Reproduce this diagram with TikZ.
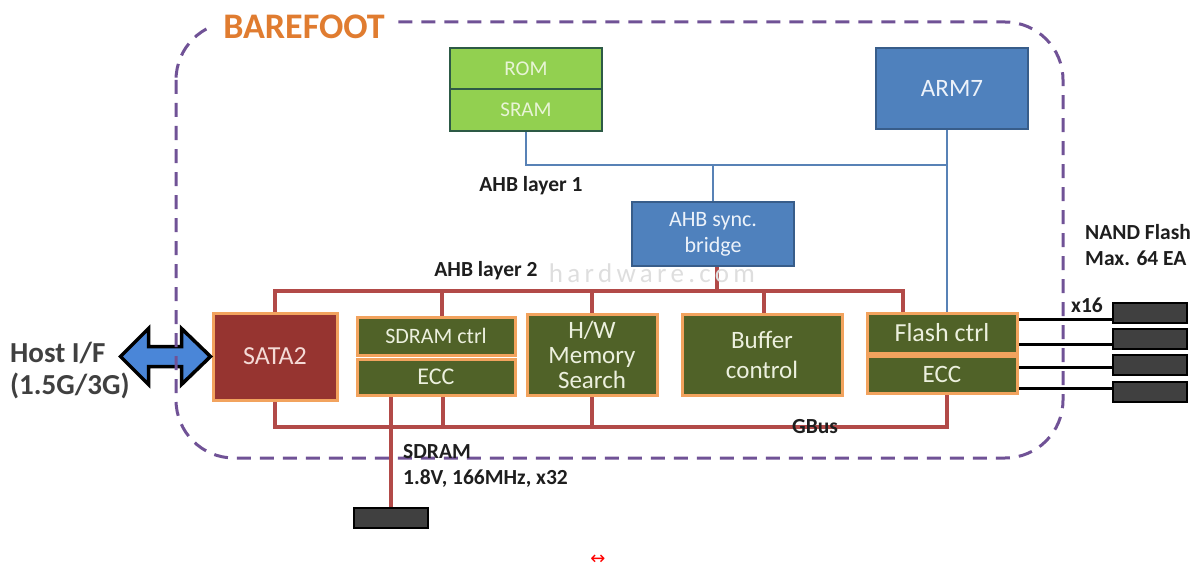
\documentclass[tikz,border=0pt]{standalone}
\usepackage{fontspec}
\setmainfont{Carlito}
\newfontfamily\djv{DejaVu Sans}
\newfontfamily\wmfont[LetterSpace=16]{Carlito}
\usetikzlibrary{calc,backgrounds}
\definecolor{purp}{RGB}{112,82,150}
\definecolor{orangetxt}{RGB}{224,124,48}
\definecolor{lgreen}{RGB}{146,208,80}
\definecolor{gborder}{RGB}{45,90,70}
\definecolor{lgtext}{RGB}{232,244,214}
\definecolor{bfill}{RGB}{79,129,189}
\definecolor{bborder}{RGB}{56,93,138}
\definecolor{btext}{RGB}{236,242,250}
\definecolor{bline}{RGB}{88,130,182}
\definecolor{rline}{RGB}{178,74,72}
\definecolor{oborder}{RGB}{242,163,94}
\definecolor{olivef}{RGB}{80,98,40}
\definecolor{cream}{RGB}{236,240,222}
\definecolor{satared}{RGB}{150,52,48}
\definecolor{satatxt}{RGB}{244,218,214}
\definecolor{chipc}{RGB}{64,64,64}
\definecolor{labc}{RGB}{30,30,30}
\definecolor{hostc}{RGB}{64,64,64}
\definecolor{arrowc}{RGB}{74,134,216}
\newcommand\fsz[2]{\fontsize{#1}{#2}\selectfont}
\begin{document}
\begin{tikzpicture}[x=1pt,y=-1pt,
  greenbox/.style={draw=gborder, line width=2.5pt, fill=lgreen, text=lgtext, font=\fsz{21}{24}, inner sep=0pt, minimum width=152pt},
  bluebox/.style={draw=bborder, line width=2pt, fill=bfill, text=btext, inner sep=0pt, align=center},
  obox/.style={draw=oborder, line width=3pt, fill=olivef, text=cream, inner sep=0pt, align=center},
  bl/.style={draw=bline, line width=2.5pt},
  rl/.style={draw=rline, line width=4pt},
  nl/.style={draw=black, line width=3pt},
  chip/.style={draw=black, line width=2pt, fill=chipc, minimum width=74pt, minimum height=20pt, inner sep=0pt},
  lbl/.style={font=\bfseries\fsz{21.5}{26}, text=labc, align=left, inner sep=0pt},
  harrow/.style={draw=black, line width=3.5pt, fill=arrowc, line join=miter}
]
\useasboundingbox (0,0) rectangle (1204,567);

% watermark
\node[text=black!13, font=\wmfont\fsz{27}{27}, inner sep=0pt] (wm) at (652,273) {hardware.com};

% boxes
\node[greenbox, minimum height=41pt] (rom) at (526,68.5) {ROM};
\node[greenbox, minimum height=42pt] (sram) at (526,110) {SRAM};
\node[bluebox, minimum width=152pt, minimum height=81pt, font=\fsz{25}{28}] (arm) at (952,88.5) {ARM7};
\node[bluebox, minimum width=162pt, minimum height=64pt, font=\fsz{22}{26}] (bridge) at (713,234) {AHB sync.\\bridge};

\node[obox, fill=satared, text=satatxt, minimum width=124pt, minimum height=87pt, font=\fsz{26}{28}] (sata) at (275,356.5) {SATA2};
\node[obox, minimum width=158pt, minimum height=38pt, font=\fsz{22}{24}] (sdc) at (436,336) {SDRAM ctrl};
\node[obox, minimum width=158pt, minimum height=36pt, font=\fsz{24}{26}] (ecc1) at (436,377) {ECC};
\node[obox, minimum width=130pt, minimum height=81pt, font=\fsz{25}{25}] (hw) at (592,354.5) {H/W\\Memory\\Search};
\node[obox, minimum width=160pt, minimum height=81pt, font=\fsz{25}{30}] (buf) at (762,354.5) {Buffer\\control};
\node[obox, minimum width=150pt, minimum height=40pt, font=\fsz{26}{28}] (flc) at (942,333) {Flash ctrl};
\node[obox, minimum width=150pt, minimum height=37pt, font=\fsz{25}{27}] (fecc) at (942,374.5) {ECC};

% chips
\node[chip] (sdchip) at (390.5,517.5) {};
\node[chip] (c1) at (1150,313) {};
\node[chip] (c2) at (1150,338.5) {};
\node[chip] (c3) at (1150,365) {};
\node[chip] (c4) at (1150,391.5) {};

% bus coordinates
\coordinate (bus1) at (0,165);
\coordinate (bus2) at (0,291);
\coordinate (bus3) at (0,427);
\coordinate (armdrop) at ([xshift=-5pt]arm.south);
\coordinate (fltop) at ([xshift=-39pt]flc.north);
\coordinate (flbot) at ([xshift=5pt]fecc.south);
\coordinate (sdbot) at ([xshift=7pt]ecc1.south);
\coordinate (brbot) at ([xshift=4pt]bridge.south);

\begin{pgfonlayer}{background}
  % AHB layer 1
  \draw[bl] (sram.south) -- (sram.south |- bus1) -- (bus1 -| armdrop);
  \draw[bl] (armdrop) -- (armdrop |- flc.north);
  \draw[bl] (bridge.north) -- (bridge.north |- bus1);
  % AHB layer 2
  \draw[rl] (sata.north) -- (sata.north |- bus2) -- (bus2 -| fltop) -- (fltop);
  \draw[rl] ([xshift=6pt]sdc.north) -- ([xshift=6pt]sdc.north |- bus2);
  \draw[rl] (hw.north) -- (hw.north |- bus2);
  \draw[rl] ([xshift=2pt]buf.north) -- ([xshift=2pt]buf.north |- bus2);
  \draw[rl] (brbot) -- (brbot |- bus2);
  % GBus
  \draw[rl] (sata.south) -- (sata.south |- bus3) -- (bus3 -| flbot) -- (flbot);
  \draw[rl] (sdbot) -- (sdbot |- bus3);
  \draw[rl] (hw.south) -- (hw.south |- bus3);
  \draw[rl] (sdchip.north) -- (sdchip.north |- ecc1.south);
  % NAND lines
  \draw[nl] ([yshift=-6pt]c1.west) -- ([yshift=-6pt]c1.west -| flc.east);
  \draw[nl] ([yshift=-5.5pt]c2.west) -- ([yshift=-5.5pt]c2.west -| flc.east);
  \draw[nl] ([yshift=-2pt]c3.west) -- ([yshift=-2pt]c3.west -| fecc.east);
  \draw[nl] ([yshift=3.5pt]c4.west) -- ([yshift=3.5pt]c4.west -| fecc.east);
\end{pgfonlayer}

% host arrow
\coordinate (hr) at ([xshift=-1pt]sata.west);
\draw[harrow] (hr) -- ++(-29,-28) -- ++(0,18) -- ++(-33,0) -- ++(0,-18) -- ++(-28,28)
   -- ++(28,28) -- ++(0,-18) -- ++(33,0) -- ++(0,18) -- cycle;

% dashed border
\draw[purp, line width=3pt, dash pattern=on 14pt off 9pt, rounded corners=58pt] (176,22) rectangle (1063,458);

% labels
\node[text=orangetxt, font=\bfseries\fsz{36}{36}, fill=white, inner xsep=10pt, inner ysep=4pt] (barefoot) at (304,27) {BAREFOOT};
\node[lbl] (ahb1) at (531,186) {AHB layer 1};
\node[lbl] (ahb2) at (486,271) {AHB layer 2};
\node[lbl] (gbus) at (815,427) {GBus};
\node[lbl, anchor=west] (sdlab) at (403,466) {SDRAM\\1.8V, 166MHz, x32};
\node[lbl, anchor=west] (nand) at (1085,245) {NAND Flash\\Max. 64 EA};
\node[lbl] (x16) at (1087,305) {x16};
\node[font=\bfseries\fsz{29}{32}, text=hostc, align=left, anchor=west, inner sep=0pt] (host) at (10,371) {Host I/F\\(1.5G/3G)};
\node[text=red, font=\djv\fsz{18}{18}, inner sep=0pt, anchor=base] (mark) at (598,564) {↔};
\end{tikzpicture}
\end{document}
